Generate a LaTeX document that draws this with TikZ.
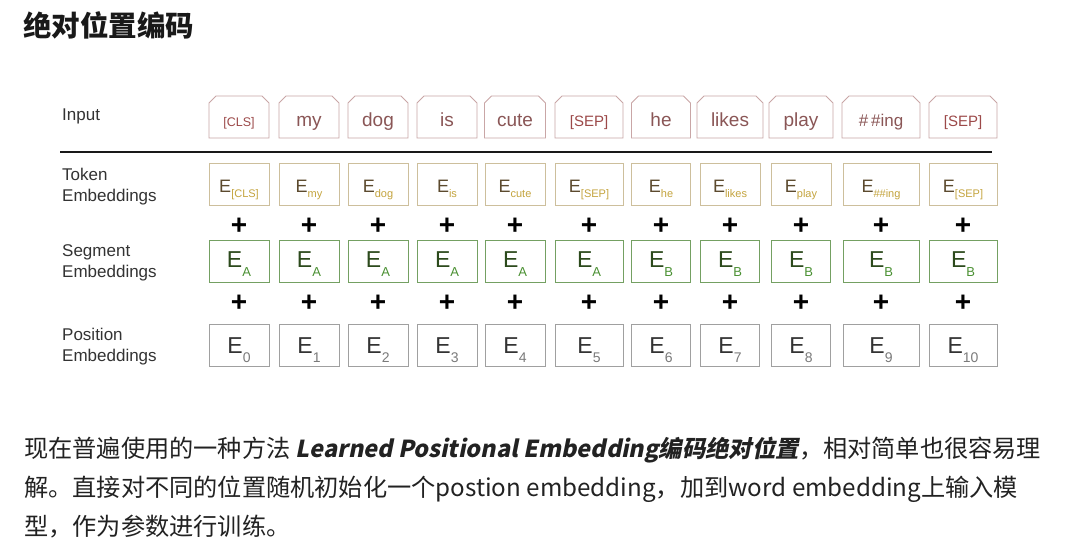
\documentclass[tikz,border=0pt]{standalone}
\usepackage{fontspec}
\setmainfont{Liberation Sans}
\newfontfamily\cjk{Noto Sans CJK SC}
\newfontfamily\cjkbi{Noto Sans CJK SC}[BoldFeatures={FakeSlant=0.2}]
\usetikzlibrary{positioning,shapes.misc}
\definecolor{inborder}{HTML}{C9A6A6}
\definecolor{intext}{HTML}{8A5656}
\definecolor{tokborder}{HTML}{CDBF9C}
\definecolor{tokE}{HTML}{5C4A2E}
\definecolor{toksub}{HTML}{C4A43E}
\definecolor{segborder}{HTML}{74A062}
\definecolor{segE}{HTML}{2C4A1C}
\definecolor{segsub}{HTML}{4A9032}
\definecolor{posborder}{HTML}{A0A0A0}
\definecolor{posE}{HTML}{333333}
\definecolor{possub}{HTML}{7A7A7A}
\definecolor{labeltext}{HTML}{333333}
\definecolor{bodytext}{HTML}{222222}

\newcommand{\tokemb}[1]{{\color{tokE}E}\raisebox{-5pt}{\fontsize{11}{11}\selectfont\color{toksub}#1}}
\newcommand{\segemb}[1]{{\color{segE}E}\raisebox{-9pt}{\fontsize{13}{13}\selectfont\color{segsub}#1}}
\newcommand{\posemb}[1]{{\color{posE}E}\raisebox{-9pt}{\fontsize{14}{14}\selectfont\color{possub}#1}}

\tikzset{
  inbox/.style={chamfered rectangle, chamfered rectangle corners={north west,north east},
    chamfered rectangle xsep=3.5pt, draw=inborder, line width=0.9pt, minimum height=42pt,
    inner sep=0pt, text=intext, font=\fontsize{19}{19}\selectfont, text height=19.4pt, text depth=0pt},
  tokbox/.style={draw=tokborder, line width=0.9pt, minimum height=42pt, inner sep=0pt,
    font=\fontsize{18}{18}\selectfont, text height=16pt, text depth=0pt},
  segbox/.style={draw=segborder, line width=0.9pt, minimum height=42pt, inner sep=0pt,
    font=\fontsize{23}{23}\selectfont, text height=16.5pt, text depth=3pt},
  posbox/.style={draw=posborder, line width=0.9pt, minimum height=42pt, inner sep=0pt,
    font=\fontsize{23}{23}\selectfont, text height=17pt, text depth=2pt},
  plus/.style={font=\fontsize{28}{28}\selectfont\bfseries, inner sep=0pt},
  rowlabel/.style={anchor=west, align=left, inner sep=0pt, text=labeltext,
    font=\fontsize{17}{21}\selectfont},
  bodyline/.style={anchor=west, inner sep=0pt, text=bodytext, font=\cjk\fontsize{24.2}{24.2}\selectfont}
}

\begin{document}
\begin{tikzpicture}[x=1pt, y=-1pt]
\useasboundingbox[fill=white] (0,0) rectangle (1070,547);

% title
\node[anchor=west, inner sep=0pt, text=black!90, font=\cjk\bfseries\fontsize{28.5}{28.5}\selectfont] (title) at (23,25) {绝对位置编码};

% row labels
\node[rowlabel] (lbin) at (62,116.5) {Input};
\node[rowlabel] (lbtok) at (62,187) {Token\\Embeddings};
\node[rowlabel] (lbseg) at (62,263) {Segment\\Embeddings};
\node[rowlabel] (lbpos) at (62,347) {Position\\Embeddings};

% input tokens
\node[inbox, minimum width=60pt, font=\fontsize{12.5}{12.5}\selectfont, text=intext!85!red] (in1) at (239,117) {[CLS]};
\node[inbox, minimum width=60pt] (in2) at (309,117) {my};
\node[inbox, minimum width=60pt] (in3) at (378,117) {dog};
\node[inbox, minimum width=60pt] (in4) at (447,117) {is};
\node[inbox, minimum width=61pt] (in5) at (515,117) {cute};
\node[inbox, minimum width=68pt, font=\fontsize{15}{15}\selectfont, text=intext!85!red] (in6) at (589,117) {[SEP]};
\node[inbox, minimum width=59pt] (in7) at (661,117) {he};
\node[inbox, minimum width=66pt] (in8) at (730,117) {likes};
\node[inbox, minimum width=64pt] (in9) at (801,117) {play};
\node[inbox, minimum width=78pt, font=\fontsize{17}{17}\selectfont] (in10) at (881,117) {\#\,\#ing};
\node[inbox, minimum width=68pt, font=\fontsize{15}{15}\selectfont, text=intext!85!red] (in11) at (963,117) {[SEP]};

% separating rule
\coordinate (ruleL) at (60,152);
\coordinate (ruleR) at (992,152);
\draw[line width=2.4pt, black!90] (ruleL) -- (ruleR);

% token embeddings
\node[tokbox, minimum width=60pt] (tok1) at (239,184) {\tokemb{[CLS]}};
\node[tokbox, minimum width=60pt] (tok2) at (309,184) {\tokemb{my}};
\node[tokbox, minimum width=60pt] (tok3) at (378,184) {\tokemb{dog}};
\node[tokbox, minimum width=60pt] (tok4) at (447,184) {\tokemb{is}};
\node[tokbox, minimum width=60pt] (tok5) at (515,184) {\tokemb{cute}};
\node[tokbox, minimum width=68pt] (tok6) at (589,184) {\tokemb{[SEP]}};
\node[tokbox, minimum width=59pt] (tok7) at (661,184) {\tokemb{he}};
\node[tokbox, minimum width=60pt] (tok8) at (730,184) {\tokemb{likes}};
\node[tokbox, minimum width=60pt] (tok9) at (801,184) {\tokemb{play}};
\node[tokbox, minimum width=76pt] (tok10) at (881,184) {\tokemb{\#\#ing}};
\node[tokbox, minimum width=68pt] (tok11) at (963,184) {\tokemb{[SEP]}};

% plus signs
\node[plus] (pa1) at (239,226) {+};
\node[plus] (pa2) at (309,226) {+};
\node[plus] (pa3) at (378,226) {+};
\node[plus] (pa4) at (447,226) {+};
\node[plus] (pa5) at (515,226) {+};
\node[plus] (pa6) at (589,226) {+};
\node[plus] (pa7) at (661,226) {+};
\node[plus] (pa8) at (730,226) {+};
\node[plus] (pa9) at (801,226) {+};
\node[plus] (pa10) at (881,226) {+};
\node[plus] (pa11) at (963,226) {+};

% segment embeddings
\node[segbox, minimum width=60pt] (seg1) at (239,261) {\segemb{A}};
\node[segbox, minimum width=60pt] (seg2) at (309,261) {\segemb{A}};
\node[segbox, minimum width=60pt] (seg3) at (378,261) {\segemb{A}};
\node[segbox, minimum width=60pt] (seg4) at (447,261) {\segemb{A}};
\node[segbox, minimum width=60pt] (seg5) at (515,261) {\segemb{A}};
\node[segbox, minimum width=68pt] (seg6) at (589,261) {\segemb{A}};
\node[segbox, minimum width=59pt] (seg7) at (661,261) {\segemb{B}};
\node[segbox, minimum width=59pt] (seg8) at (730,261) {\segemb{B}};
\node[segbox, minimum width=59pt] (seg9) at (801,261) {\segemb{B}};
\node[segbox, minimum width=76pt] (seg10) at (881,261) {\segemb{B}};
\node[segbox, minimum width=68pt] (seg11) at (963,261) {\segemb{B}};

% plus signs
\node[plus] (pb1) at (239,303) {+};
\node[plus] (pb2) at (309,303) {+};
\node[plus] (pb3) at (378,303) {+};
\node[plus] (pb4) at (447,303) {+};
\node[plus] (pb5) at (515,303) {+};
\node[plus] (pb6) at (589,303) {+};
\node[plus] (pb7) at (661,303) {+};
\node[plus] (pb8) at (730,303) {+};
\node[plus] (pb9) at (801,303) {+};
\node[plus] (pb10) at (881,303) {+};
\node[plus] (pb11) at (963,303) {+};

% position embeddings
\node[posbox, minimum width=60pt] (pos1) at (239,345.5) {\posemb{0}};
\node[posbox, minimum width=60pt] (pos2) at (309,345.5) {\posemb{1}};
\node[posbox, minimum width=60pt] (pos3) at (378,345.5) {\posemb{2}};
\node[posbox, minimum width=60pt] (pos4) at (447,345.5) {\posemb{3}};
\node[posbox, minimum width=60pt] (pos5) at (515,345.5) {\posemb{4}};
\node[posbox, minimum width=68pt] (pos6) at (589,345.5) {\posemb{5}};
\node[posbox, minimum width=59pt] (pos7) at (661,345.5) {\posemb{6}};
\node[posbox, minimum width=59pt] (pos8) at (730,345.5) {\posemb{7}};
\node[posbox, minimum width=59pt] (pos9) at (801,345.5) {\posemb{8}};
\node[posbox, minimum width=76pt] (pos10) at (881,345.5) {\posemb{9}};
\node[posbox, minimum width=68pt] (pos11) at (963,345.5) {\posemb{10}};

% paragraph below
\node[bodyline] (body1) at (24,450) {现在普遍使用的一种方法 {\cjkbi\bfseries\fontsize{23.4}{23.4}\selectfont Learned Positional Embedding编码绝对位置}，相对简单也很容易理};
\node[bodyline] (body2) at (24,489) {解。直接对不同的位置随机初始化一个postion embedding，加到word embedding上输入模};
\node[bodyline] (body3) at (24,527) {型，作为参数进行训练。};
\end{tikzpicture}
\end{document}
